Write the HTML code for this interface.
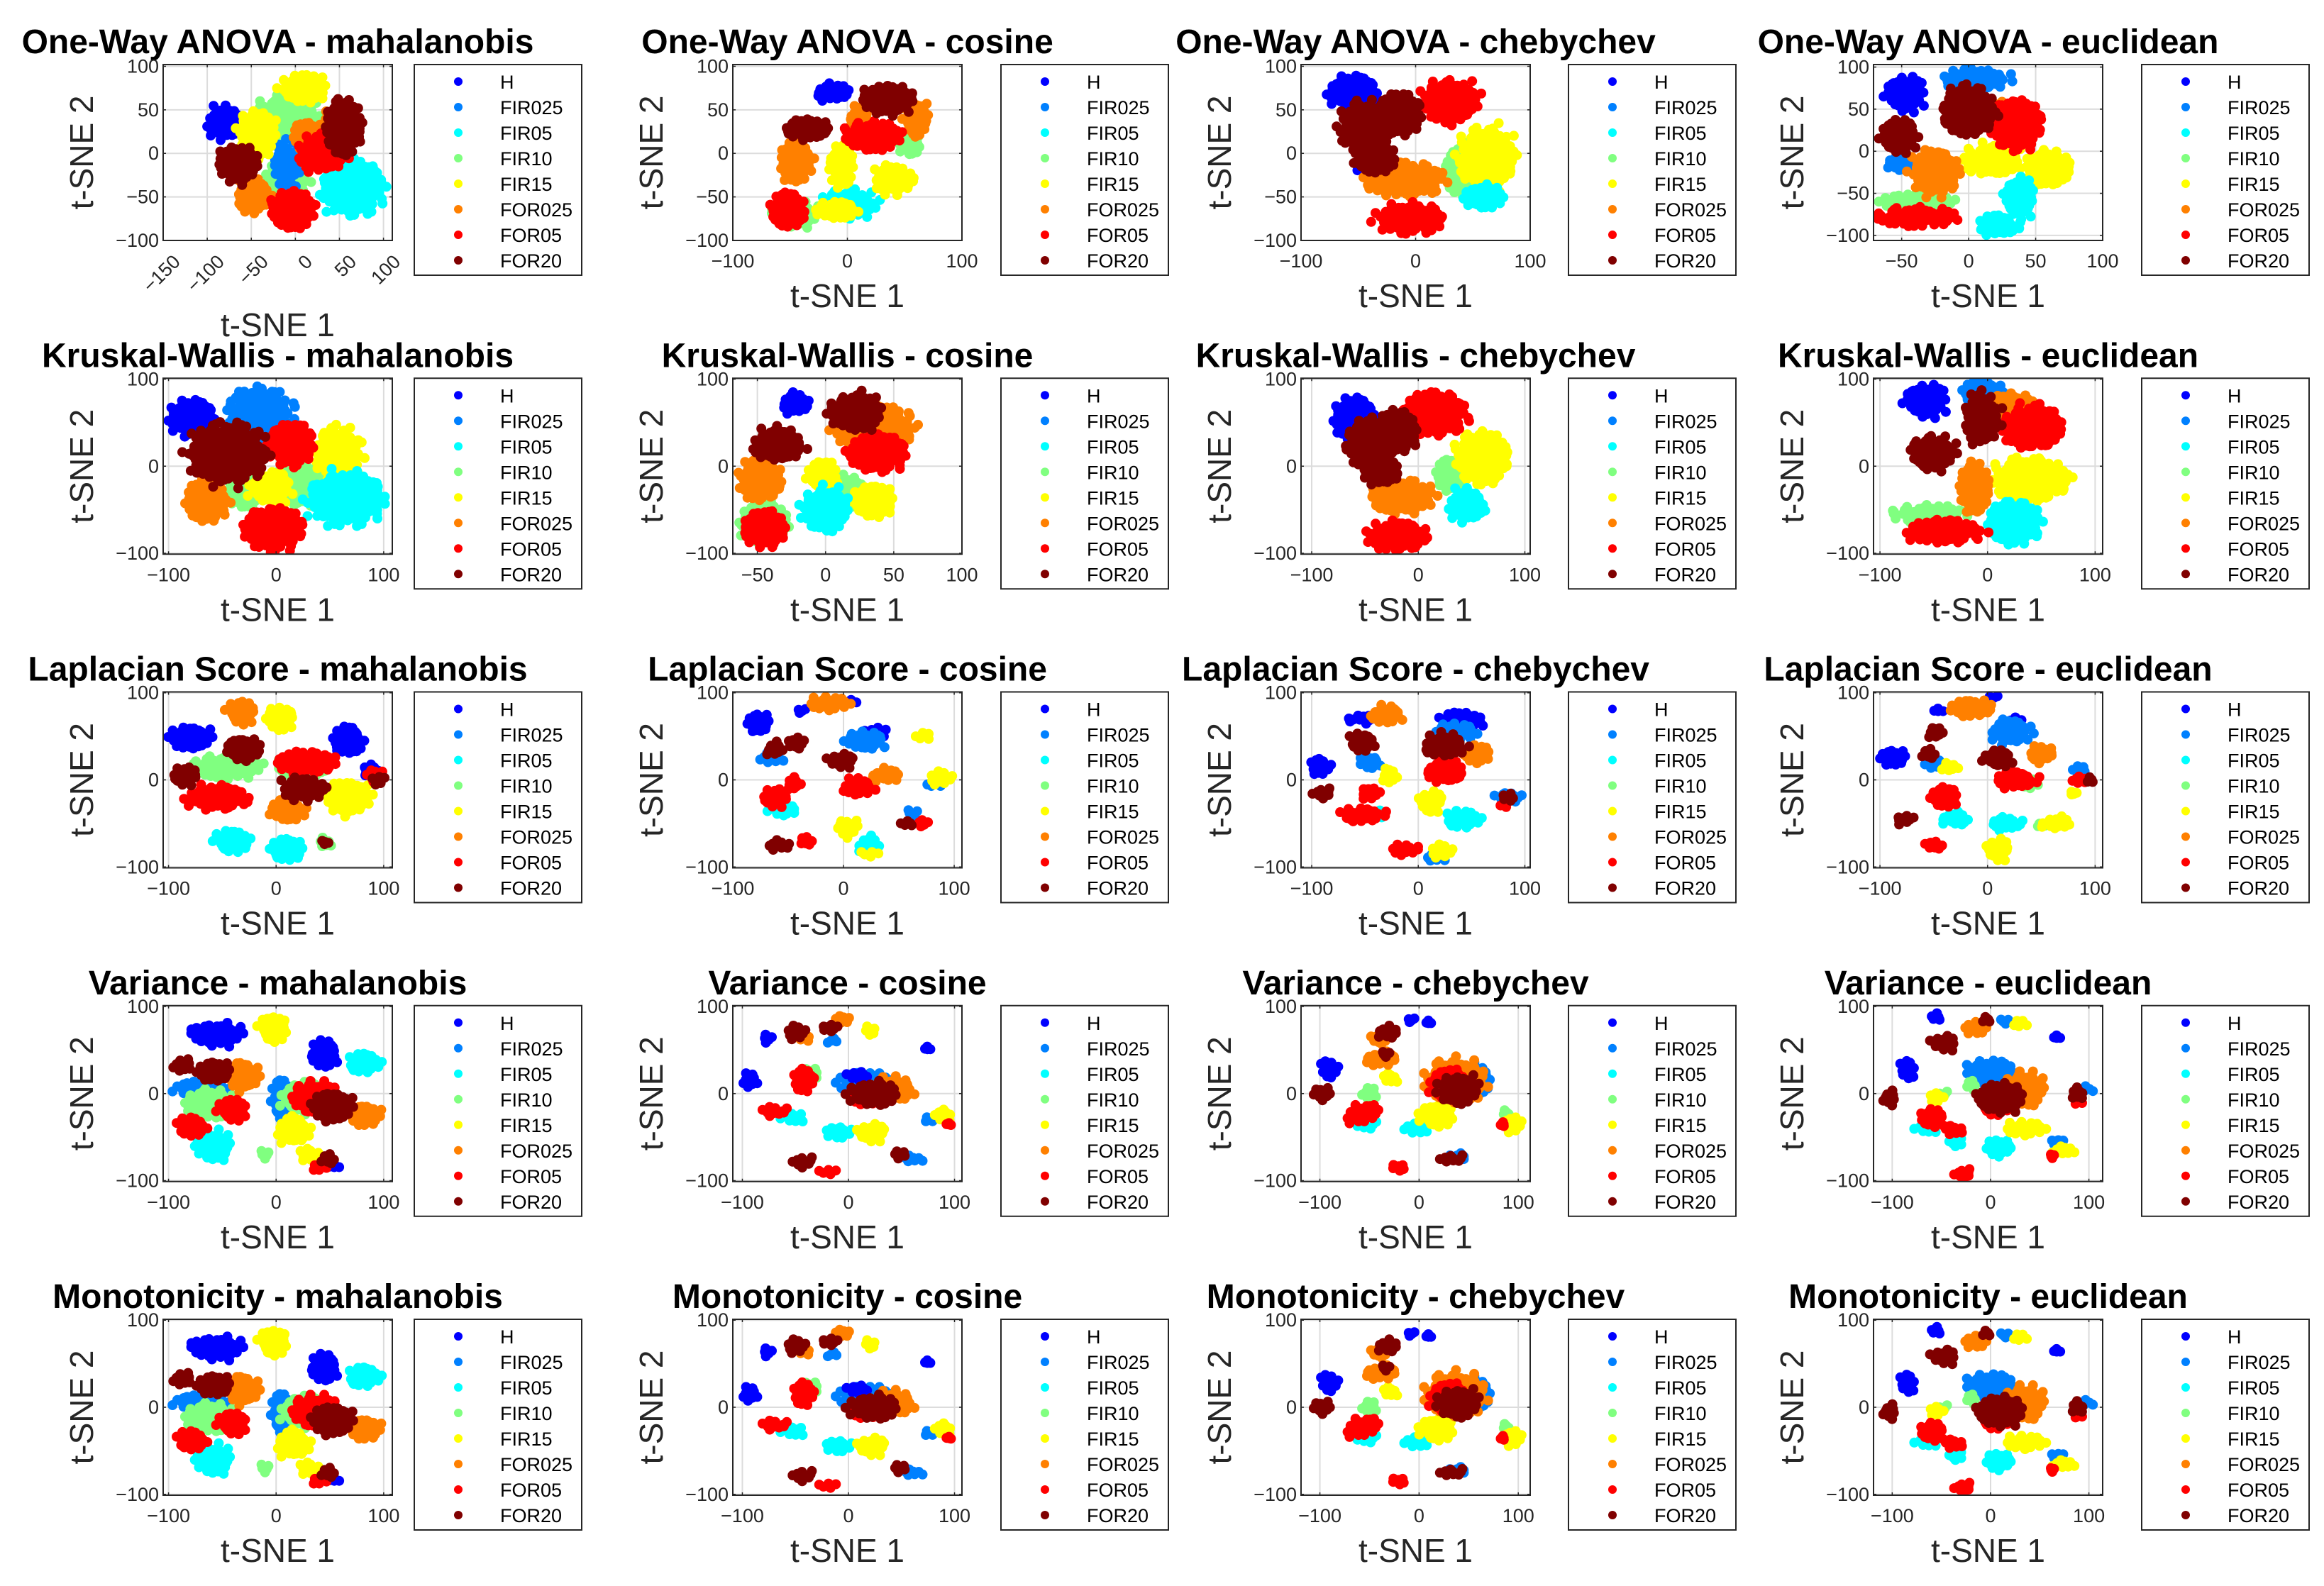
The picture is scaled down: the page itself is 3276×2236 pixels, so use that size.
<!DOCTYPE html>
<html><head><meta charset="utf-8">
<style>
html,body{margin:0;padding:0;background:#fff;}
svg{display:block;font-family:"Liberation Sans",Arial,sans-serif;}
</style></head>
<body>
<svg id="fig" width="3276" height="2236" viewBox="0 0 3276 2236" xmlns="http://www.w3.org/2000/svg"></svg>
<script>
// ---------- data ----------
const classNames = ["H","FIR025","FIR05","FIR10","FIR15","FOR025","FOR05","FOR20"];
const classColors = ["#0000ff","#0080ff","#00ffff","#80ff80","#ffff00","#ff8000","#ff0000","#800000"];
const rowMethods = ["One-Way ANOVA","Kruskal-Wallis","Laplacian Score","Variance","Monotonicity"];
const colMetrics = ["mahalanobis","cosine","chebychev","euclidean"];

// cluster centres: [classIndex, x, y, spreadX, spreadY]
const anovaMaha = [[3,-10,42,35,25],[3,-10,-30,25,20],[1,-10,-15,15,30],[0,-80,35,22,20],[4,10,75,27,18],[4,-43,22,22,28],[2,65,-40,35,32],[5,15,20,20,18],[5,40,30,12,20],[5,-48,-48,20,22],[6,30,0,28,22],[6,-3,-65,26,23],[7,55,30,22,32],[7,-65,-12,24,22]];
const anovaCos = [[3,-45,-70,22,15],[3,55,10,10,15],[0,-13,70,16,12],[2,2,-58,25,17],[4,-5,-15,12,25],[4,40,-30,18,18],[4,-10,-65,20,12],[5,-45,-10,15,25],[5,60,40,12,22],[5,10,40,10,15],[6,-52,-65,16,22],[6,22,20,25,18],[7,-35,28,20,14],[7,35,62,24,18]];
const anovaCheb = [[0,-55,70,22,20],[0,-40,-20,10,12],[3,40,-20,15,30],[4,62,-5,25,35],[2,60,-50,18,15],[5,-10,-30,35,20],[6,30,60,25,25],[6,-5,-75,30,18],[7,-45,30,22,30],[7,-15,45,20,25],[7,-35,-5,18,20]];
const anovaEuc = [[0,-47,68,15,22],[1,5,85,25,15],[1,-50,-15,12,12],[3,-38,-58,28,10],[4,18,-10,22,20],[4,60,-20,17,22],[2,38,-55,12,25],[2,22,-88,16,14],[5,-25,-25,18,28],[5,20,45,15,15],[6,35,32,20,30],[6,-38,-78,30,13],[7,-52,18,14,22],[7,0,48,20,30]];

const kwMaha = [[0,-78,55,22,22],[1,-15,60,30,30],[1,-30,-15,12,25],[3,20,-20,25,25],[3,-30,-30,15,20],[4,58,15,22,30],[4,-5,-25,20,20],[2,65,-38,35,30],[5,-65,-40,20,25],[6,13,25,22,25],[6,-3,-72,28,25],[7,-45,15,35,35]];
const kwCos = [[3,-45,-65,18,25],[3,15,-30,15,20],[0,-22,72,11,14],[4,-2,-10,12,18],[4,35,-40,16,20],[2,0,-50,18,25],[5,-48,-15,16,25],[5,35,45,30,25],[6,-45,-72,16,22],[6,38,15,22,22],[7,-35,25,19,20],[7,22,62,20,22]];
const kwCheb = [[0,-60,55,20,25],[3,30,-10,15,20],[4,60,10,25,30],[2,45,-45,18,20],[5,-15,-35,30,20],[6,15,60,30,25],[6,-20,-80,28,18],[7,-45,25,22,30],[7,-20,40,20,25],[7,-35,-5,18,18]];
const kwEuc = [[0,-57,75,20,20],[1,-5,85,20,15],[3,-55,-55,35,12],[4,40,-15,35,25],[2,25,-65,25,25],[5,-12,-25,15,30],[5,20,70,25,15],[6,42,45,28,25],[6,-40,-75,35,15],[7,-50,15,22,20],[7,-5,55,17,30]];

const lapMaha = [[0,-80,48,20,15],[0,67,45,15,18],[0,88,10,10,10],[3,-45,15,32,15],[3,25,15,25,15],[3,45,-72,8,8],[4,4,70,15,15],[4,67,-20,22,20],[2,-40,-70,17,15],[2,10,-80,16,15],[5,-32,78,14,15],[5,10,-35,17,15],[6,-55,-20,30,15],[6,28,20,28,15],[6,92,5,10,10],[7,-30,35,17,15],[7,-85,5,14,12],[7,25,-10,22,15],[7,45,-72,5,5],[7,95,0,8,8]];
const lapCos = [[0,-77,65,11,14],[0,-38,80,6,5],[0,8,90,7,5],[0,30,55,12,8],[1,-65,25,12,8],[1,20,45,20,12],[1,82,-5,10,6],[1,63,-38,8,6],[2,-55,-35,15,8],[2,23,-75,11,12],[4,72,50,9,7],[4,88,2,12,10],[4,4,-55,11,12],[4,23,-85,10,6],[5,-13,88,20,10],[5,38,5,15,10],[6,-62,-20,14,12],[6,-45,-5,8,10],[6,-34,-70,8,8],[6,13,-8,15,12],[6,72,-50,7,7],[7,-62,35,9,10],[7,-43,42,9,10],[7,-58,-75,12,8],[7,-2,22,14,10],[7,58,-50,8,6]];
const lapCheb = [[0,-92,15,11,12],[0,-62,70,7,5],[0,-50,70,10,8],[0,40,68,22,12],[1,-45,20,12,10],[1,15,-90,12,6],[1,35,55,20,12],[1,85,-20,15,8],[2,-45,-40,15,8],[2,42,-45,18,12],[4,-27,5,8,12],[4,22,-82,12,10],[4,12,-25,13,14],[5,-30,75,17,12],[5,55,30,15,12],[6,-52,-40,22,10],[6,-45,-15,10,10],[6,-12,-80,16,8],[6,25,10,18,15],[6,80,-28,7,6],[7,-90,-15,11,8],[7,-52,43,14,12],[7,25,40,20,15],[7,85,-20,8,8]];
const lapEuc = [[0,-88,25,13,12],[0,5,95,7,5],[0,-45,80,7,5],[0,25,65,10,10],[1,-50,20,10,10],[1,22,55,20,15],[1,85,12,10,7],[3,40,-5,10,8],[3,50,-52,6,5],[2,-30,-45,14,10],[2,18,-50,16,10],[4,-35,15,9,8],[4,10,-80,12,14],[4,64,-50,15,9],[4,80,-15,5,5],[5,-15,82,20,12],[5,50,30,13,12],[6,-40,-20,14,14],[6,-49,-75,10,8],[6,27,0,20,12],[6,86,0,8,8],[7,-48,55,8,10],[7,-55,30,9,8],[7,-77,-45,10,8],[7,10,25,14,12],[7,95,0,6,6]];

const varMaha = [[0,-55,68,25,14],[0,45,45,14,17],[0,55,-83,7,6],[1,-70,5,25,12],[1,5,-5,10,25],[3,-60,-12,25,18],[3,25,-5,20,20],[3,-10,-70,7,7],[2,-58,-60,18,18],[2,82,35,17,13],[4,-3,75,14,17],[4,16,-42,16,17],[4,30,-70,10,10],[5,-30,20,15,18],[5,82,-25,17,14],[6,-78,-38,15,13],[6,-40,-18,14,15],[6,37,-5,22,20],[6,40,-85,9,7],[7,-87,32,10,10],[7,-58,25,16,14],[7,52,-15,20,18],[7,48,-75,9,8]];
const varCos = [[0,-93,15,9,11],[0,-76,63,7,7],[0,75,52,5,5],[1,15,15,26,12],[1,-15,60,8,5],[1,60,-75,12,6],[1,75,-30,7,5],[0,10,20,12,8],[3,-38,22,12,10],[2,-52,-28,12,8],[2,-10,-45,13,10],[4,21,72,8,8],[4,22,-45,15,12],[4,90,-25,9,10],[5,-42,65,8,8],[5,-5,85,10,7],[5,42,5,20,15],[6,-42,15,12,15],[6,-70,-20,14,8],[6,-20,-90,10,6],[6,15,-5,15,10],[6,95,-35,4,4],[7,-49,70,11,10],[7,-18,75,9,8],[7,-43,-78,12,8],[7,23,0,24,15],[7,48,-70,8,8]];
const varCheb = [[0,-91,28,10,13],[0,-8,85,6,5],[0,10,82,5,5],[1,55,15,18,20],[1,40,-72,12,6],[3,-50,0,10,10],[3,87,-22,6,5],[2,-55,-35,14,8],[2,-2,-40,14,9],[4,-30,18,10,8],[4,18,-25,18,15],[4,95,-35,10,12],[5,-40,62,10,8],[5,-38,40,18,10],[5,37,15,30,25],[6,-63,-25,12,12],[6,-48,-20,8,12],[6,-20,-85,10,7],[6,30,10,20,20],[6,84,-35,5,5],[7,-98,0,11,10],[7,-32,70,12,10],[7,-33,45,8,6],[7,40,5,22,18],[7,33,-75,14,7]];
const varEuc = [[0,-55,88,8,7],[0,-85,28,10,13],[0,68,65,6,5],[1,15,83,8,5],[1,0,25,26,15],[1,68,-55,10,6],[1,98,5,10,6],[3,-48,0,8,6],[3,-20,10,8,8],[2,-65,-40,12,8],[2,-35,-55,10,8],[2,8,-62,15,12],[4,30,80,10,7],[4,-55,-5,10,8],[4,35,-40,22,10],[4,75,-65,12,8],[5,-15,75,13,10],[5,35,5,22,20],[6,-60,-28,15,12],[6,-38,-42,12,8],[6,-28,-92,11,8],[6,5,-15,15,12],[6,63,-72,5,5],[6,90,-10,6,6],[7,-47,58,15,10],[7,-5,85,8,6],[7,-103,-5,9,10],[7,10,-5,25,18],[7,88,0,9,9]];

const monoMaha = varMaha, monoCos = varCos, monoCheb = varCheb, monoEuc = varEuc;

const plotClusters = [
  [anovaMaha, anovaCos, anovaCheb, anovaEuc],
  [kwMaha, kwCos, kwCheb, kwEuc],
  [lapMaha, lapCos, lapCheb, lapEuc],
  [varMaha, varCos, varCheb, varEuc],
  [monoMaha, monoCos, monoCheb, monoEuc]
];
const xRanges = [
  [[-150,110],[-100,100],[-100,100],[-71,100]],
  [[-105,108],[-68,100],[-110,105],[-106,107]],
  [[-105,108],[-100,107],[-110,105],[-106,107]],
  [[-105,108],[-109,107],[-119,112],[-119,114]],
  [[-105,108],[-109,107],[-119,112],[-119,114]]
];
const yRanges = [
  [[-100,102],[-100,102],[-100,102],[-106,103]],
  [[-101,101],[-101,101],[-101,101],[-101,101]],
  [[-101,101],[-101,101],[-101,101],[-101,101]],
  [[-101,101],[-101,101],[-101,101],[-101,101]],
  [[-101,101],[-101,101],[-101,101],[-101,101]]
];
const xTicks = [
  [[-150,-100,-50,0,50,100],[-100,0,100],[-100,0,100],[-50,0,50,100]],
  [[-100,0,100],[-50,0,50,100],[-100,0,100],[-100,0,100]],
  [[-100,0,100],[-100,0,100],[-100,0,100],[-100,0,100]],
  [[-100,0,100],[-100,0,100],[-100,0,100],[-100,0,100]],
  [[-100,0,100],[-100,0,100],[-100,0,100],[-100,0,100]]
];
const yTicksRow1 = [-100,-50,0,50,100];
const yTicksOther = [-100,0,100];

// ---------- layout ----------
const NS = "http://www.w3.org/2000/svg";
const svg = document.getElementById("fig");
const axLeft = [230,1033,1834,2641];
const legLeft = [584,1411,2211,3019];
const AXW = 323, AXH = 248, ROW0 = 91, ROWP = 442.25, LEGW = 236, LEGH = 297;
const TXT = "#262626";

function mk(tag, attrs, parent){
  const e = document.createElementNS(NS, tag);
  for (const k in attrs) e.setAttribute(k, attrs[k]);
  (parent||svg).appendChild(e);
  return e;
}
function fmt(v){ return v < 0 ? "\u2212" + Math.abs(v) : String(v); }

for (let r = 0; r < 5; r++) {
  for (let c = 0; c < 4; c++) {
    const L = axLeft[c], T = ROW0 + r*ROWP, B = T + AXH, R = L + AXW;
    const xr = xRanges[r][c], yr = yRanges[r][c];
    const sx = v => L + (v - xr[0]) / (xr[1] - xr[0]) * AXW;
    const sy = v => B - (v - yr[0]) / (yr[1] - yr[0]) * AXH;
    const g = mk("g", {});
    
    

    const title = mk("text", {x: L + AXW/2, y: T - 16, "text-anchor":"middle", "font-size":48, "font-weight":"bold", fill:"#000"}, g);
    title.textContent = rowMethods[r] + " - " + colMetrics[c];
    
    

    const cid = "clip" + r + c;
    const cp = mk("clipPath", {id: cid}, g);
    mk("rect", {x:L, y:T, width:AXW, height:AXH}, cp);

    const yt = r === 0 ? yTicksRow1 : yTicksOther;
    const xt = xTicks[r][c];
    const grid = mk("g", {stroke:"#dcdcdc", "stroke-width":2}, g);
    
    
    xt.forEach(v => { const X = sx(v); if (X > L+1 && X < R-1) mk("line", {x1:X, x2:X, y1:T, y2:B}, grid); });
    yt.forEach(v => { const Y = sy(v); if (Y > T+1 && Y < B-1) mk("line", {x1:L, x2:R, y1:Y, y2:Y}, grid); });

    const pts = mk("g", {"clip-path": "url(#" + cid + ")"}, g);
    
    
    const cl = plotClusters[r][c];
    const pxPerX = AXW / (xr[1]-xr[0]), pxPerY = AXH / (yr[1]-yr[0]);
    cl.forEach((k, idx) => {
      const cls = k[0], cx = sx(k[1]), cy = sy(k[2]);
      const rx = Math.max(k[3]*pxPerX*1.08 - 3, 1), ry = Math.max(k[4]*pxPerY*1.08 - 3, 1);
      const n = Math.max(4, Math.ceil(Math.PI*rx*ry/40));
      const grp = mk("g", {fill: classColors[cls]}, pts);
      
      
      mk("ellipse", {cx:cx, cy:cy, rx:rx*0.85, ry:ry*0.85}, grp);
      for (let i = 0; i < n; i++) {
        const t = Math.sqrt((i+0.5)/n), a = i*2.39996 + idx;
        const wob = 1 + 0.15*Math.sin(a*3.1 + idx) + 0.08*Math.sin(i*7.3);
        mk("circle", {cx:(cx + Math.cos(a)*rx*t*wob).toFixed(1), cy:(cy + Math.sin(a)*ry*t*wob).toFixed(1), r:7}, grp);
      }
    });

    const box = mk("rect", {x:L, y:T, width:AXW, height:AXH, fill:"none", stroke:TXT, "stroke-width":2}, g);
    
    

    const tk = mk("g", {stroke:TXT, "stroke-width":1.5}, g);
    xt.forEach(v => { const X = sx(v); if (X >= L-0.5 && X <= R+0.5) { mk("line",{x1:X,x2:X,y1:B,y2:B-4},tk); mk("line",{x1:X,x2:X,y1:T,y2:T+4},tk);} });
    yt.forEach(v => { const Y = sy(v); if (Y >= T-1 && Y <= B+1) { mk("line",{x1:L,x2:L+4,y1:Y,y2:Y},tk); mk("line",{x1:R,x2:R-4,y1:Y,y2:Y},tk);} });

    xt.forEach(v => {
      const X = sx(v);
      let t;
      if (r === 0 && c === 0) {
        t = mk("text", {x:X+12, y:B+18, "text-anchor":"end", "font-size":27, fill:TXT, transform:"rotate(-45 " + (X+12) + " " + (B+18) + ")", "dominant-baseline":"hanging"}, g);
      } else {
        t = mk("text", {x:X, y:B+38, "text-anchor":"middle", "font-size":27, fill:TXT}, g);
      }
      t.textContent = fmt(v);
      
      
    });
    yt.forEach(v => {
      const t = mk("text", {x:L-6, y:sy(v)+9, "text-anchor":"end", "font-size":27, fill:TXT}, g);
      t.textContent = fmt(v);
      
      
    });

    const xl = mk("text", {x:L + AXW/2, y: B + (r===0 && c===0 ? 135 : 94), "text-anchor":"middle", "font-size":46, fill:TXT}, g);
    xl.textContent = "t-SNE 1";
    
    
    const yx = L - 99, yy = T + AXH/2;
    const yl = mk("text", {x:yx, y:yy, "text-anchor":"middle", "font-size":46, fill:TXT, transform:"rotate(-90 " + yx + " " + yy + ")"}, g);
    yl.textContent = "t-SNE 2";
    
    

    const LL = legLeft[c];
    const lg = mk("g", {}, g);
    
    
    mk("rect", {x:LL, y:T, width:LEGW, height:LEGH, fill:"#fff", stroke:TXT, "stroke-width":2}, lg);
    classNames.forEach((nm, i) => {
      const ey = T + 24 + i*36;
      const ent = mk("g", {}, lg);
      
      
      mk("circle", {cx:LL+62, cy:ey, r:6, fill:classColors[i]}, ent);
      const tt = mk("text", {x:LL+121, y:ey+10, "font-size":27, fill:"#000"}, ent);
      tt.textContent = nm;
    });
  }
}
</script>
</body></html>
